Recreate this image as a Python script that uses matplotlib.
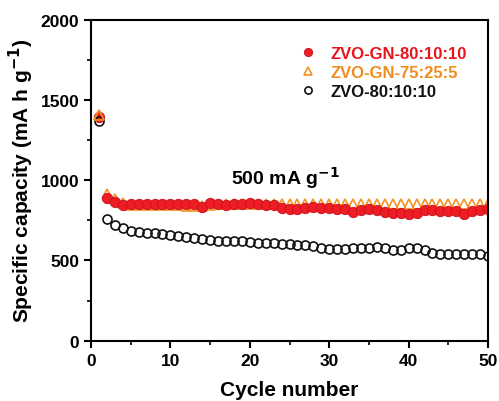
import numpy as np
import matplotlib
matplotlib.use('Agg')
import matplotlib.pyplot as plt
from matplotlib.ticker import MultipleLocator

plt.rcParams['font.family'] = ['Liberation Sans', 'DejaVu Sans']
plt.rcParams['font.weight'] = 'bold'

cycles = list(range(1, 51))

# ZVO-GN-80:10:10 (red spheres)
gn_80 = [1392, 891, 864, 842, 854, 854, 854, 854, 854, 854,
         854, 852, 850, 833, 857, 854, 846, 850, 854, 860,
         852, 848, 846, 829, 819, 823, 826, 833, 825, 829,
         823, 817, 802, 815, 817, 813, 802, 798, 796, 792,
         798, 815, 813, 809, 806, 809, 792, 809, 815, 819]

# ZVO-GN-75:25:5 (orange triangles)
gn_75 = [1405, 912, 880, 855, 848, 848, 848, 848, 848, 848,
         846, 840, 838, 838, 848, 850, 850, 850, 852, 852,
         852, 852, 852, 852, 852, 852, 852, 852, 852, 852,
         852, 852, 852, 852, 852, 852, 852, 852, 852, 852,
         852, 852, 852, 852, 852, 852, 852, 852, 852, 852]

# ZVO-80:10:10 (open circles)
zvo_80 = [1366, 757, 723, 699, 682, 675, 672, 670, 665, 657,
          652, 647, 640, 632, 624, 622, 620, 620, 618, 612,
          610, 608, 606, 603, 600, 598, 594, 587, 580, 572,
          570, 570, 580, 580, 580, 582, 578, 566, 566, 575,
          575, 565, 549, 542, 539, 539, 539, 539, 539, 525]

fig = plt.figure(figsize=(4.99, 4.02), dpi=100)
ax = fig.add_axes([0.1824, 0.150, 0.7956, 0.799])

ax.plot(cycles, gn_75, linestyle='none', marker='^', markersize=7,
        markerfacecolor='none', markeredgecolor='#f39322', markeredgewidth=1.2,
        label='ZVO-GN-75:25:5', zorder=1)
ax.plot(cycles, zvo_80, linestyle='none', marker='o', markersize=6.5,
        markerfacecolor='none', markeredgecolor='#111111', markeredgewidth=1.2,
        label='ZVO-80:10:10', zorder=3)
ax.plot(cycles, gn_80, linestyle='none', marker='o', markersize=7.5,
        markerfacecolor='#ee1c24', markeredgecolor='#c8101a', markeredgewidth=0.6,
        label='ZVO-GN-80:10:10', zorder=2)
# first-cycle triangle sits on top of the red sphere in the original
ax.plot(cycles[:1], gn_75[:1], linestyle='none', marker='^', markersize=7,
        markerfacecolor='none', markeredgecolor='#f39322', markeredgewidth=1.2,
        zorder=4)

ax.set_xlim(0, 50)
ax.set_ylim(0, 2000)
ax.xaxis.set_major_locator(MultipleLocator(10))
ax.xaxis.set_minor_locator(MultipleLocator(5))
ax.yaxis.set_major_locator(MultipleLocator(500))
ax.yaxis.set_minor_locator(MultipleLocator(250))
ax.tick_params(which='major', direction='out', length=5, width=1.5, labelsize=12.5)
ax.tick_params(which='minor', direction='out', length=3, width=1.2)
for s in ax.spines.values():
    s.set_linewidth(1.5)

ax.set_xlabel('Cycle number', fontsize=15, fontweight='bold', labelpad=9)
ax.set_ylabel('Specific capacity (mA h g$^{\\mathbf{-1}}$)', fontsize=15, fontweight='bold', labelpad=3)

ax.text(24.5, 1020, '500 mA g$^{\\mathbf{-1}}$', ha='center', va='center',
        fontsize=14, fontweight='bold')

h, l = ax.get_legend_handles_labels()
order = [2, 0, 1]
leg = ax.legend([h[i] for i in order], [l[i] for i in order],
                loc='upper left', bbox_to_anchor=(0.493, 0.965), frameon=False,
                handlelength=0.8, handletextpad=0.9, labelspacing=0.25,
                markerscale=0.8, prop={'weight': 'bold', 'size': 12})
colors = ['#e8141c', '#f08c1e', '#111111']
for t, c in zip(leg.get_texts(), colors):
    t.set_color(c)

fig.savefig('out.png', dpi=100)
